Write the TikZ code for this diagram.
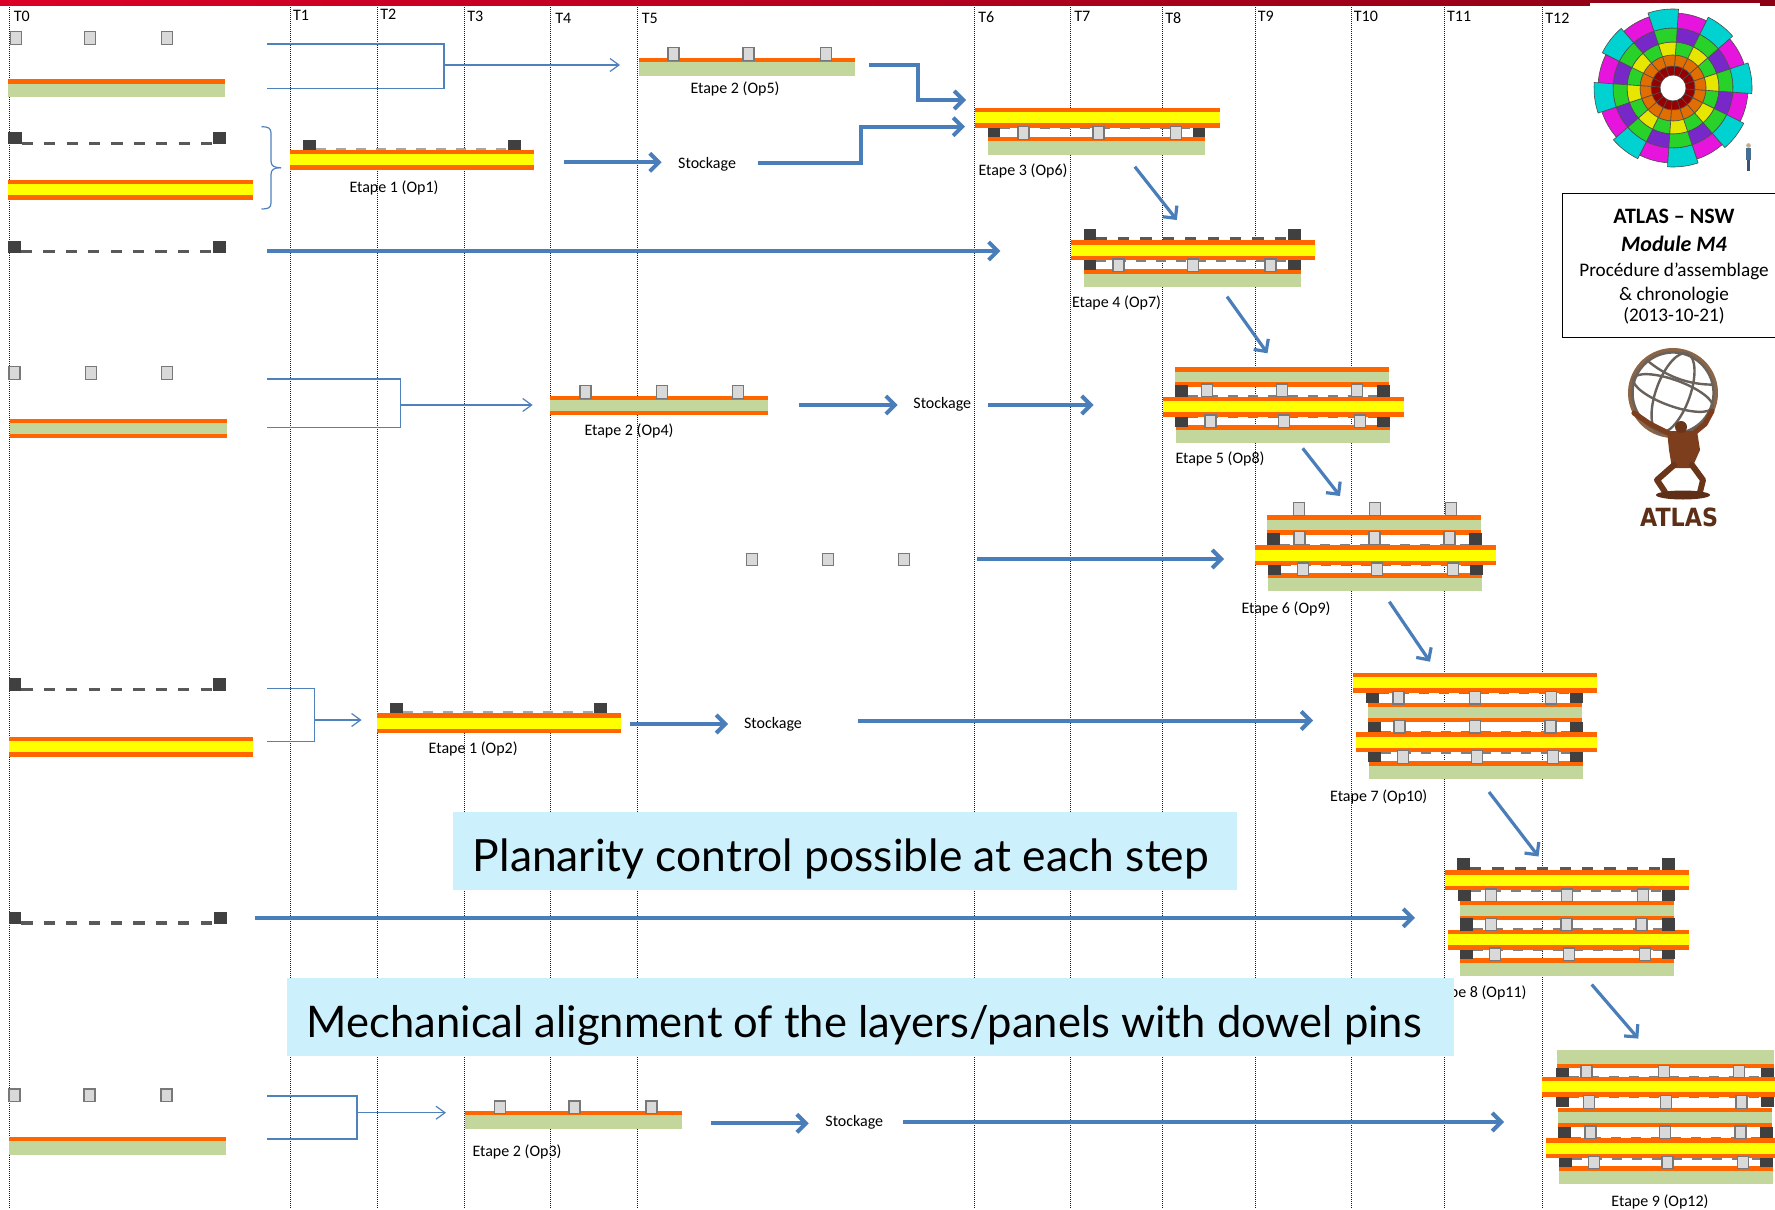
\documentclass[tikz,border=0pt]{standalone}
\usepackage{fontspec}
\setmainfont{Carlito}
\newfontfamily\slidefont{Lato}
\newfontfamily\logofont{DejaVu Sans}
\usetikzlibrary{arrows.meta}

\definecolor{orng}{RGB}{255,102,0}
\definecolor{ylw}{RGB}{255,255,0}
\definecolor{grn}{RGB}{195,214,155}
\definecolor{pinfill}{RGB}{217,217,217}
\definecolor{pinline}{RGB}{120,120,120}
\definecolor{frameblk}{RGB}{64,64,64}
\definecolor{dashgray}{RGB}{89,89,89}
\definecolor{arrowblue}{RGB}{74,126,187}
\definecolor{thinblue}{RGB}{79,129,189}
\definecolor{boxcyan}{RGB}{204,240,252}
\definecolor{barred}{RGB}{220,0,40}
\definecolor{bardark}{RGB}{140,0,20}
\definecolor{wdred}{RGB}{150,0,0}
\definecolor{worange}{RGB}{225,110,0}
\definecolor{wyellow}{RGB}{230,230,0}
\definecolor{wgreen}{RGB}{40,210,40}
\definecolor{wpurple}{RGB}{120,40,200}
\definecolor{wmagenta}{RGB}{230,20,220}
\definecolor{wcyan}{RGB}{0,210,210}
\definecolor{atlasbrown}{RGB}{125,62,30}
\definecolor{globegray}{RGB}{105,98,92}
\definecolor{globerim}{RGB}{140,100,70}
\definecolor{skin}{RGB}{200,170,140}
\definecolor{suit}{RGB}{70,110,145}
\definecolor{suitdark}{RGB}{55,85,115}

% layers of a module: x left, x right, y top (y grows downwards)
\newcommand\ypan[3]{\fill[orng] (#1,#3) rectangle (#2,#3+20);\fill[ylw] (#1,#3+4.5) rectangle (#2,#3+15.5);}
\newcommand\apan[3]{\fill[orng] (#1,#3) rectangle (#2,#3+4.7);\fill[grn] (#1,#3+4.7) rectangle (#2,#3+18);}
\newcommand\fpan[3]{\fill[grn] (#1,#3) rectangle (#2,#3+13.5);\fill[orng] (#1,#3+13.5) rectangle (#2,#3+17.8);}
\newcommand\bpan[3]{\fill[orng] (#1,#3) rectangle (#2,#3+19.3);\fill[grn] (#1,#3+4.3) rectangle (#2,#3+15);}
% dowel pin (x left, y top) and frame block (x1,y1,x2,y2)
\newcommand\pin[2]{\filldraw[fill=pinfill,draw=pinline,line width=0.6pt] (#1,#2) rectangle (#1+11,#2+12.5);}
\newcommand\fblk[4]{\fill[frameblk] (#1,#2) rectangle (#3,#4);}
% wheel sector: colour, start angle, end angle, inner radius, outer radius
\newcommand\wsector[5]{\filldraw[fill=#1,draw=black!70,line width=0.3pt] (#2:#4) -- (#2:#5) arc[start angle=#2,end angle=#3,radius=#5] -- (#3:#4) arc[start angle=#3,end angle=#2,radius=#4] -- cycle;}

\begin{document}
\begin{tikzpicture}[x=0.5pt,y=-0.5pt,
  tline/.style={draw=black!90,line width=0.45pt,dash pattern=on 0.5pt off 0.5pt},
  tlab/.style={anchor=west,font=\fontsize{8}{9}\selectfont,inner sep=0pt},
  lab/.style={font=\fontsize{8}{9}\selectfont,inner sep=0pt},
  bigarrow/.style={draw=arrowblue,line width=2pt,-{Straight Barb[length=4.5pt,width=9pt]}},
  diagarrow/.style={draw=arrowblue,line width=1.6pt,-{Straight Barb[length=4.5pt,width=9pt]}},
  thinline/.style={draw=thinblue,line width=0.6pt},
  thinarrow/.style={thinline,-{Straight Barb[length=4.5pt,width=6.5pt]}},
  platedash/.style={draw=dashgray,line width=1.7pt,dash pattern=on 5.6pt off 5.6pt},
  framedash/.style={draw=black!50,line width=1.3pt,dash pattern=on 5pt off 5pt},
  lightdash/.style={draw=black!35,line width=1pt,dash pattern=on 5pt off 5pt},
  notebox/.style={fill=boxcyan},
  globeline/.style={draw=globegray,line width=1.2pt},
  limb/.style={draw=atlasbrown,line cap=round,line join=round},
]
\useasboundingbox (0,0) rectangle (1775,1209);
\clip (0,0) rectangle (1775,1209);
\fill[white] (0,0) rectangle (1775,1209);

% ---------- time grid ----------
\foreach \x/\lx/\ly/\tn in {9/13.4/16/T0, 290/292.8/15/T1, 377.7/380/14/T2, 464.2/467/16/T3,
  550.3/555/18.3/T4, 637.5/641.5/18.3/T5, 974.6/978/16.7/T6, 1070.5/1074/16.7/T7,
  1162.5/1165/18.3/T8, 1255/1257.5/16/T9, 1351/1353.5/16/T10, 1444/1446.7/16/T11, 1542/1545/17.9/T12}{
  \draw[tline] (\x,5) -- (\x,1209);
  \node[tlab] (lab\tn) at (\lx,\ly) {\tn};
}
\shade[left color=barred,right color=bardark] (0,0) rectangle (1775,5.4);
\fill[white] (1590,3) rectangle (1760,5.6);

% ---------- column T0: raw parts ----------
% row 1
\apan{8.4}{225}{79.3}
\pin{10.3}{31.7}\pin{84.2}{31.7}\pin{161.5}{31.7}
% row 2
\draw[platedash] (21.8,143.5) -- (213,143.5);
\fblk{8.4}{132}{21.8}{144.3}\fblk{213}{132}{226}{144.3}
\ypan{8.4}{253}{180}
% row 3
\draw[platedash] (21,251.5) -- (213,251.5);
\fblk{8.4}{241}{21}{253.3}\fblk{213}{241}{226}{253.3}
% row 4
\bpan{10}{227}{419}
\pin{9}{366.7}\pin{85.7}{366.7}\pin{161.7}{366.7}
% row 7
\draw[platedash] (21.4,689.5) -- (213.4,689.5);
\fblk{8.9}{678.3}{21.4}{690.7}\fblk{213.4}{678.3}{225.9}{690.7}
\ypan{8.9}{253.1}{736.7}
% row 8
\draw[platedash] (21.4,922.8) -- (214.3,922.8);
\fblk{8.9}{912.3}{21.4}{924}\fblk{214.3}{912.3}{226.8}{924}
% row 9
\apan{9.3}{226}{1136.7}
\pin{9}{1089}\pin{84}{1089}\pin{161}{1089}
% loose pins (row 5)
\pin{746.7}{553.3}\pin{822.7}{553.3}\pin{898.7}{553.3}

% ---------- brackets ----------
\draw[thinline] (267,44) -- (444,44) -- (444,88.3) -- (267,88.3);
\coordinate (b1s) at (444,65); \coordinate (b1e) at (620,65);
\draw[thinarrow] (b1s) -- (b1e);
\draw[thinline] (261.5,126.7) .. controls (268,126.7) and (271,128) .. (271,133) -- (271,161)
  .. controls (271,166) and (274,167.7) .. (281,167.7);
\draw[thinline] (281,167.7) .. controls (274,167.7) and (271,169.5) .. (271,174.5) -- (271,203)
  .. controls (271,208) and (268,209) .. (261.5,209);
\draw[thinline] (267.3,379) -- (400.3,379) -- (400.3,427.3) -- (267.3,427.3);
\coordinate (b4s) at (400.3,405); \coordinate (b4e) at (532.7,405);
\draw[thinarrow] (b4s) -- (b4e);
\draw[thinline] (267,688.3) -- (314.7,688.3) -- (314.7,741.7) -- (267,741.7);
\coordinate (b7s) at (314.7,720); \coordinate (b7e) at (361.6,720);
\draw[thinarrow] (b7s) -- (b7e);
\draw[thinline] (267.3,1096) -- (357,1096) -- (357,1139) -- (267.3,1139);
\coordinate (b9s) at (357,1112.7); \coordinate (b9e) at (446,1112.7);
\draw[thinarrow] (b9s) -- (b9e);

% ---------- single-layer steps ----------
% Etape 2 (Op5)
\apan{638.8}{855.4}{57.7}
\pin{668}{47.7}\pin{743}{47.7}\pin{820.5}{47.7}
\node[lab] (op5) at (735,89) {Etape 2 (Op5)};
% Etape 1 (Op1)
\draw[lightdash] (316,149) -- (508,149);
\fblk{303}{140}{316}{150}\fblk{508}{140}{521}{150}
\ypan{290}{534}{150}
\node[lab] (op1) at (394,187.7) {Etape 1 (Op1)};
% Etape 2 (Op4)
\bpan{550.3}{767.7}{395.7}
\pin{580}{385.7}\pin{656.3}{385.7}\pin{732.3}{385.7}
\node[lab] (op4) at (629,430.7) {Etape 2 (Op4)};
% Etape 1 (Op2)
\draw[lightdash] (403.1,712.3) -- (594.2,712.3);
\fblk{390.2}{702.7}{403.1}{713.3}\fblk{594.2}{702.7}{607.1}{713.3}
\ypan{377.2}{620.5}{713.3}
\node[lab] (op2) at (473.2,749) {Etape 1 (Op2)};
% Etape 2 (Op3)
\apan{465}{681.7}{1110.7}
\pin{494.3}{1101}\pin{569}{1101}\pin{646}{1101}
\node[lab] (op3) at (517,1151.7) {Etape 2 (Op3)};

% ---------- Etape 3 (Op6) ----------
\draw[framedash] (1000.4,128) -- (1193,128);
\ypan{974.5}{1219.6}{107.7}
\apan{988}{1205.4}{136.7}
\fblk{988}{127.7}{1000.4}{137.3}\fblk{1193}{127.7}{1205.4}{137.3}
\pin{1018}{126.7}\pin{1093}{126.7}\pin{1170.5}{126.7}
\node[lab] (op6) at (1023,171.3) {Etape 3 (Op6)};

% ---------- Etape 4 (Op7) ----------
\draw[platedash] (1095.5,238.6) -- (1288.3,238.6);
\draw[framedash] (1095.5,260.5) -- (1288.3,260.5);
\ypan{1070.5}{1314.7}{240}
\apan{1083.5}{1300.7}{269.3}
\fblk{1083.5}{229}{1095.5}{240}\fblk{1288.3}{229}{1300.7}{240}
\fblk{1083.5}{260.3}{1095.5}{270}\fblk{1288.3}{260.3}{1300.7}{270}
\pin{1113}{259}\pin{1187.5}{259}\pin{1265}{259}
\node[lab] (op7) at (1116.5,303.3) {Etape 4 (Op7)};

% ---------- Etape 5 (Op8) ----------
\draw[framedash] (1187.7,396) -- (1377,396);
\draw[framedash] (1187.7,417) -- (1377,417);
\bpan{1175}{1388.7}{367.3}
\ypan{1163.3}{1403.7}{396.7}
\apan{1176}{1389.7}{425}
\fblk{1175}{385}{1187.7}{396.7}\fblk{1377}{385}{1389.7}{396.7}
\fblk{1175}{416.7}{1187.7}{426.7}\fblk{1377}{416.7}{1389.7}{426.7}
\pin{1201.3}{384}\pin{1276.3}{384}\pin{1351.3}{384}
\pin{1205}{415}\pin{1278.7}{415}\pin{1354.7}{415}
\node[lab] (op8) at (1220,459.3) {Etape 5 (Op8)};

% ---------- Etape 6 (Op9) ----------
\draw[framedash] (1280,545) -- (1469.3,545);
\draw[framedash] (1281,565) -- (1470.3,565);
\bpan{1267.3}{1481}{515.3}
\ypan{1255.3}{1496}{545}
\apan{1268.3}{1482}{573.3}
\fblk{1267.3}{533}{1280}{545}\fblk{1469.3}{533}{1482}{545}
\fblk{1268.3}{564.7}{1281}{575}\fblk{1470.3}{564.7}{1483}{575}
\pin{1293.3}{502.7}\pin{1369.3}{502.7}\pin{1445.3}{502.7}
\pin{1294}{531.7}\pin{1369}{531.7}\pin{1444}{531.7}
\pin{1297.7}{563}\pin{1371.3}{563}\pin{1447.7}{563}
\node[lab] (op9) at (1286,608.7) {Etape 6 (Op9)};

% ---------- Etape 7 (Op10) ----------
\draw[framedash] (1378.7,693) -- (1570,693);
\draw[framedash] (1380.7,732) -- (1570,732);
\draw[framedash] (1381,752.5) -- (1570,752.5);
\ypan{1353.3}{1596.7}{672.7}
\bpan{1368.3}{1581.7}{702.7}
\ypan{1355.7}{1596.7}{732.3}
\apan{1369}{1582.7}{761}
\fblk{1366}{692.7}{1378.7}{702.7}\fblk{1570}{692.7}{1582.7}{702.7}
\fblk{1368}{721.7}{1380.7}{732.3}\fblk{1570}{721.7}{1582.7}{732.3}
\fblk{1368.3}{752.3}{1381}{762.3}\fblk{1570}{752.3}{1582.7}{762.3}
\pin{1393}{691.5}\pin{1469.7}{691.5}\pin{1545.7}{691.5}
\pin{1394}{720.5}\pin{1469.3}{720.5}\pin{1545}{720.5}
\pin{1397.3}{750.7}\pin{1471.7}{750.7}\pin{1547.7}{750.7}
\node[lab] (op10) at (1378.7,797) {Etape 7 (Op10)};

% ---------- Etape 8 (Op11) ----------
\draw[platedash] (1470,868.3) -- (1662.3,868.3);
\draw[framedash] (1471,890.2) -- (1662.3,890.2);
\draw[framedash] (1473,929.7) -- (1662.3,929.7);
\draw[framedash] (1473,949.7) -- (1662.3,949.7);
\ypan{1445}{1688.7}{870.3}
\bpan{1460.3}{1673.7}{900.6}
\ypan{1447.7}{1688.7}{929.9}
\apan{1460.3}{1674}{958.4}
\fblk{1457.3}{857.8}{1470}{870.3}\fblk{1662.3}{857.8}{1675}{870.3}
\fblk{1458.3}{889.9}{1471}{900.6}\fblk{1662.3}{889.9}{1675}{900.6}
\fblk{1460.3}{918.1}{1473}{930.6}\fblk{1662.3}{918.1}{1675}{930.6}
\fblk{1460.3}{949.5}{1473}{959.4}\fblk{1662.3}{949.5}{1675}{959.4}
\pin{1485.3}{889}\pin{1561.7}{889}\pin{1637.7}{889}
\pin{1485.7}{918.1}\pin{1561}{918.1}\pin{1636}{918.1}
\pin{1489.3}{948}\pin{1563.3}{948}\pin{1639.3}{948}
\node[lab] (op11) at (1478,993) {Etape 8 (Op11)};

% ---------- Etape 9 (Op12) ----------
\draw[framedash] (1568.7,1077) -- (1761,1077);
\draw[framedash] (1568.7,1097) -- (1761,1097);
\draw[framedash] (1571,1138.4) -- (1760,1138.4);
\draw[framedash] (1571.7,1158.2) -- (1760,1158.2);
\fpan{1557}{1774}{1050}
\ypan{1542}{1776}{1076.7}
\bpan{1558.3}{1771.7}{1108.1}
\ypan{1546}{1776}{1138.4}
\apan{1559.3}{1772.7}{1165.9}
\fblk{1556}{1067.8}{1568.7}{1076.7}\fblk{1761}{1067.8}{1774}{1076.7}
\fblk{1556}{1096.7}{1568.7}{1107.4}\fblk{1761}{1096.7}{1774}{1107.4}
\fblk{1558.3}{1127}{1571}{1137.7}\fblk{1760}{1127}{1772.7}{1137.7}
\fblk{1559}{1158}{1571.7}{1166.9}\fblk{1760}{1158}{1772.7}{1166.9}
\pin{1581}{1065.3}\pin{1658.3}{1065.3}\pin{1733.3}{1065.3}
\pin{1583.7}{1095.6}\pin{1660.3}{1095.6}\pin{1736}{1095.6}
\pin{1585}{1126}\pin{1659.3}{1126}\pin{1735}{1126}
\pin{1588.3}{1156.2}\pin{1662}{1156.2}\pin{1737.7}{1156.2}
\node[lab] (op12) at (1660,1201.9) {Etape 9 (Op12)};

% ---------- storage labels ----------
\node[lab] (st1) at (707.1,164.3) {Stockage};
\node[lab] (st2) at (942.3,404) {Stockage};
\node[lab] (st3) at (773,724.5) {Stockage};
\node[lab] (st4) at (854.3,1122.7) {Stockage};

% ---------- flow arrows ----------
\coordinate (a1) at (868.8,65); \coordinate (a1k) at (918,65); \coordinate (a1m) at (918,100); \coordinate (a1e) at (966,100);
\draw[bigarrow] (a1) -- (a1k) -- (a1m) -- (a1e);
\coordinate (a2) at (563.7,162.3); \coordinate (a2e) at (661.6,162.3);
\draw[bigarrow] (a2) -- (a2e);
\coordinate (a3) at (757.6,163); \coordinate (a3k) at (861,163); \coordinate (a3m) at (861,126.7); \coordinate (a3e) at (965,126.7);
\draw[bigarrow] (a3) -- (a3k) -- (a3m) -- (a3e);
\coordinate (a4) at (267,251); \coordinate (a4e) at (1000.4,251);
\draw[bigarrow] (a4) -- (a4e);
\coordinate (a5) at (798.7,405); \coordinate (a5e) at (897.7,405);
\draw[bigarrow] (a5) -- (a5e);
\coordinate (a6) at (988.3,405); \coordinate (a6e) at (1093.5,405);
\draw[bigarrow] (a6) -- (a6e);
\coordinate (a7) at (977.3,559); \coordinate (a7e) at (1224,559);
\draw[bigarrow] (a7) -- (a7e);
\coordinate (a8) at (630,724); \coordinate (a8e) at (728,724);
\draw[bigarrow] (a8) -- (a8e);
\coordinate (a9) at (858,720.5); \coordinate (a9e) at (1313,720.5);
\draw[bigarrow] (a9) -- (a9e);
\coordinate (a10) at (254.5,917.8); \coordinate (a10e) at (1415,917.8);
\draw[bigarrow] (a10) -- (a10e);
\coordinate (a11) at (710.7,1123.3); \coordinate (a11e) at (808.7,1123.3);
\draw[bigarrow] (a11) -- (a11e);
\coordinate (a12) at (903.3,1122); \coordinate (a12e) at (1504,1122);
\draw[bigarrow] (a12) -- (a12e);
% step to step
\coordinate (d1) at (1134.8,166.7); \coordinate (d1e) at (1176.8,220);
\draw[diagarrow] (d1) -- (d1e);
\coordinate (d2) at (1227,296.6); \coordinate (d2e) at (1267.5,353.3);
\draw[diagarrow] (d2) -- (d2e);
\coordinate (d3) at (1302.7,448.3); \coordinate (d3e) at (1340,496);
\draw[diagarrow] (d3) -- (d3e);
\coordinate (d4) at (1389.3,601.7); \coordinate (d4e) at (1430,661.7);
\draw[diagarrow] (d4) -- (d4e);
\coordinate (d5) at (1489,792); \coordinate (d5e) at (1538.5,856.5);
\draw[diagarrow] (d5) -- (d5e);
\coordinate (d6) at (1591.7,984.5); \coordinate (d6e) at (1638.3,1038.6);
\draw[diagarrow] (d6) -- (d6e);

% ---------- notes ----------
\fill[notebox] (453,812) rectangle (1237,890);
\node[anchor=base,inner sep=0pt] (note1) at (841,871) {\resizebox{368pt}{!}{\slidefont Planarity control possible at each step}};
\fill[notebox] (286.7,978.3) rectangle (1454,1055.7);
\node[anchor=base,inner sep=0pt] (note2) at (864.3,1037) {\resizebox{557.5pt}{!}{\slidefont Mechanical alignment of the layers/panels with dowel pins}};

% ---------- title box ----------
\draw[line width=0.6pt] (1790,193.2) -- (1562.3,193.2) -- (1562.3,337.1) -- (1790,337.1);
\node[anchor=base,inner sep=0pt,font=\fontsize{11}{13}\selectfont\bfseries] (title1) at (1674,223.2) {ATLAS – NSW};
\node[anchor=base,inner sep=0pt,font=\fontsize{11}{13}\selectfont\bfseries\itshape] (title2) at (1674,251.8) {Module M4};
\node[anchor=base,inner sep=0pt,font=\fontsize{9.6}{11}\selectfont] (title3) at (1674,276.8) {Procédure d’assemblage};
\node[anchor=base,inner sep=0pt,font=\fontsize{9.6}{11}\selectfont] (title4) at (1674,300.7) {\& chronologie};
\node[anchor=base,inner sep=0pt,font=\fontsize{9.6}{11}\selectfont] (title5) at (1674,321.4) {(2013-10-21)};

% ---------- wheel ----------
\begin{scope}[shift={(1673,88)}]
  \foreach \i in {0,2,...,14}{
    \pgfmathsetmacro\aa{\i*22.5+4}
    \pgfmathsetmacro\ab{\aa+22.5}
    \foreach \c/\ri/\ro in {wdred/13/22,worange/22/33,wgreen/33/46,wpurple/46/60,wmagenta/60/75}{
      \wsector{\c}{\aa}{\ab}{\ri}{\ro}
    }
  }
  \foreach \i in {1,3,...,15}{
    \pgfmathsetmacro\aa{\i*22.5+4}
    \pgfmathsetmacro\ab{\aa+22.5}
    \foreach \c/\ri/\ro in {wdred/13/22,worange/22/33,wyellow/33/46,wgreen/46/60,wcyan/60/79}{
      \wsector{\c}{\aa}{\ab}{\ri}{\ro}
    }
  }
\end{scope}
% small standing figure for scale
\fill[skin] (1748.5,145.5) circle[radius=2.3];
\fill[suit] (1746.3,148.3) rectangle (1750.7,160);
\fill[suitdark] (1746.8,160) rectangle (1750.2,171);

% ---------- ATLAS logo ----------
\begin{scope}[shift={(1673,393)},rotate=-20]
  \draw[globerim,line width=2pt] (0,0) circle[radius=43];
  \draw[globeline] (0,0) circle[radius=40.5];
  \draw[globeline] (0,0) ellipse[x radius=17,y radius=42];
  \draw[globeline] (0,0) ellipse[x radius=42,y radius=13];
  \draw[globeline] (-36,-22) .. controls (-12,-13) and (12,-13) .. (36,-22);
\end{scope}
% kneeling figure holding the globe
\draw[limb,line width=2.6pt] (1668,433) -- (1650,424) -- (1634,413);
\draw[limb,line width=2.6pt] (1694,433) -- (1705,424) -- (1712,411);
\fill[atlasbrown] (1667,431) -- (1697,431) -- (1700,450) -- (1692,468) -- (1672,468) -- (1669,450) -- cycle;
\fill[atlasbrown!85!black] (1681,427) circle[radius=6];
\draw[limb,draw=atlasbrown!85!black,line width=3pt] (1674,465) -- (1657,480) -- (1665,492);
\draw[limb,draw=atlasbrown!85!black,line width=3pt] (1692,465) -- (1703,480) -- (1700,492);
\fill[atlasbrown!75!black] (1683,495) ellipse[x radius=27,y radius=4.5];
\node[anchor=base,inner sep=0pt,text=atlasbrown!75!black] (atlasname) at (1679,526.5) {\resizebox{39pt}{9.3pt}{\logofont\bfseries ATLAS}};

\end{tikzpicture}
\end{document}
